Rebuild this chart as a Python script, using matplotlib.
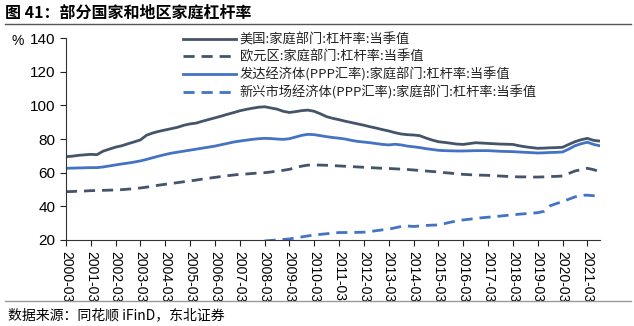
import matplotlib
matplotlib.use("Agg")
import matplotlib.pyplot as plt

plt.rcParams['font.family'] = ['Noto Sans CJK SC', 'DejaVu Sans']

# Quarterly data, 2000Q1 - 2021Q3
years = list(range(2000, 2022))
tick_labels = [f"{y}-03" for y in years]

us = [69.5, 69.8, 70.3, 70.6,
      70.9, 70.7, 72.8, 74.0,
      75.2, 76.0, 77.2, 78.3,
      79.5, 82.3, 83.6, 84.6,
      85.4, 86.2, 87.0, 88.2,
      89.0, 89.5, 90.6, 91.6,
      92.6, 93.6, 94.7, 95.7,
      96.8, 97.6, 98.3, 98.9,
      99.2, 98.5, 97.8, 96.5,
      95.8, 96.3, 96.9, 97.2,
      96.5, 95.0, 93.3, 92.3,
      91.5, 90.6, 89.8, 89.0,
      88.2, 87.3, 86.5, 85.6,
      84.8, 83.8, 83.0, 82.6,
      82.4, 82.0, 80.6, 79.4,
      78.4, 78.0, 77.5, 77.0,
      76.8, 77.3, 77.8, 77.6,
      77.4, 77.2, 77.0, 76.9,
      76.8, 76.0, 75.4, 74.9,
      74.5, 74.6, 74.8, 74.9,
      75.1, 76.8, 78.4, 79.6,
      80.4, 79.2, 78.8]

euro = [48.7, 48.8, 49.0, 49.1,
        49.3, 49.4, 49.5, 49.6,
        49.7, 49.9, 50.2, 50.5,
        50.9, 51.4, 52.0, 52.6,
        53.1, 53.6, 54.1, 54.6,
        55.1, 55.6, 56.2, 56.7,
        57.2, 57.7, 58.2, 58.6,
        59.0, 59.2, 59.5, 59.8,
        60.0, 60.4, 60.9, 61.4,
        62.0, 63.0, 63.9, 64.5,
        64.6, 64.5, 64.4, 64.2,
        64.0, 63.8, 63.6, 63.4,
        63.2, 63.0, 62.8, 62.6,
        62.5, 62.3, 62.1, 61.9,
        61.6, 61.3, 61.0, 60.7,
        60.4, 60.0, 59.7, 59.3,
        59.0, 58.8, 58.6, 58.5,
        58.4, 58.2, 58.0, 57.8,
        57.6, 57.5, 57.5, 57.4,
        57.4, 57.5, 57.7, 57.8,
        58.0, 59.5, 61.0, 61.8,
        62.6, 61.8, 60.6]

advanced = [62.6, 62.7, 62.8, 62.9,
            63.0, 63.0, 63.4, 64.0,
            64.6, 65.2, 65.7, 66.3,
            67.0, 67.9, 68.9, 69.9,
            70.8, 71.6, 72.2, 72.8,
            73.4, 74.0, 74.6, 75.2,
            75.8, 76.6, 77.4, 78.2,
            78.8, 79.3, 79.8, 80.2,
            80.4, 80.3, 80.0, 79.8,
            80.2, 81.2, 82.2, 82.8,
            82.6, 82.0, 81.4, 80.9,
            80.5, 80.0, 79.2, 78.6,
            78.2, 77.8, 77.3, 76.8,
            76.5, 76.9, 76.5, 75.8,
            75.4, 74.9, 74.3, 73.8,
            73.3, 73.1, 73.0, 72.9,
            72.9, 73.0, 73.1, 73.1,
            73.1, 72.9, 72.7, 72.6,
            72.5, 72.3, 72.1, 71.9,
            71.7, 71.8, 72.0, 72.1,
            72.3, 74.0, 76.0, 77.2,
            78.1, 76.8, 76.0]

# emerging economies start in 2008Q1
emerging_start = 32
emerging = [19.4, 19.7, 20.0, 20.3,
            20.6, 21.2, 21.8, 22.4,
            23.0, 23.3, 23.7, 24.0,
            24.4, 24.4, 24.5, 24.5,
            24.6, 25.0, 25.5, 26.0,
            26.4, 27.2, 28.0, 28.3,
            28.0, 28.3, 28.6, 28.8,
            28.9, 29.7, 30.6, 31.3,
            31.9, 32.3, 32.8, 33.2,
            33.5, 33.9, 34.2, 34.6,
            34.9, 35.3, 35.6, 35.9,
            36.2, 37.0, 40.3, 41.6,
            42.8, 44.2, 45.6, 46.6,
            46.6, 46.3, 46.1]

labels = ["美国:家庭部门:杠杆率:当季值",
          "欧元区:家庭部门:杠杆率:当季值",
          "发达经济体(PPP汇率):家庭部门:杠杆率:当季值",
          "新兴市场经济体(PPP汇率):家庭部门:杠杆率:当季值"]

dark = '#44546A'
blue = '#4472C4'
dash = (0, (4, 2.5))

fig = plt.figure(figsize=(6.34, 3.26), dpi=100)
ax = fig.add_axes([0.104, 0.264, 0.842, 0.619])

x = list(range(len(us)))
x_em = list(range(emerging_start, emerging_start + len(emerging)))

ax.plot(x, us, color=dark, lw=2, label=labels[0])
ax.plot(x, euro, color=dark, lw=2, linestyle=dash, label=labels[1])
ax.plot(x, advanced, color=blue, lw=2, label=labels[2])
ax.plot(x_em, emerging, color=blue, lw=2, linestyle=dash, label=labels[3])

ax.set_xlim(0, len(us) - 1)
ax.set_ylim(20, 140)
ax.set_yticks(range(20, 141, 20))
ax.set_xticks(range(0, len(us), 4))
ax.set_xticklabels(tick_labels, rotation=270, family='Liberation Sans', fontsize=10)
for t in ax.get_yticklabels():
    t.set_family('Liberation Sans')
    t.set_fontsize(11)
ax.tick_params(axis='both', direction='out', length=4, color='#222222')
ax.tick_params(axis='x', pad=4)
for s in ['top', 'right']:
    ax.spines[s].set_visible(False)
for s in ['left', 'bottom']:
    ax.spines[s].set_color('#333333')

fig.text(0.018, 0.862, '%', fontsize=10, family='Liberation Sans')

leg = ax.legend(loc='upper left', bbox_to_anchor=(0.28, 0.915), bbox_transform=fig.transFigure,
                frameon=False, fontsize=9.5, handlelength=4.0, handletextpad=0.3,
                labelspacing=0.3, borderaxespad=0)
for t in leg.get_texts():
    t.set_color('#222222')

# title, rules and source
fig.text(0.008, 0.962, '图 41：部分国家和地区家庭杠杆率', fontsize=11.5, fontweight='bold',
         va='center', ha='left')
fig.add_artist(plt.Line2D([0.008, 0.995], [0.925, 0.925], color='#555555', lw=1))
fig.add_artist(plt.Line2D([0.008, 0.995], [0.078, 0.078], color='#999999', lw=1))
fig.text(0.012, 0.034, '数据来源：同花顺 iFinD，东北证券', fontsize=10, va='center', ha='left')

fig.savefig('out.png', dpi=100)
